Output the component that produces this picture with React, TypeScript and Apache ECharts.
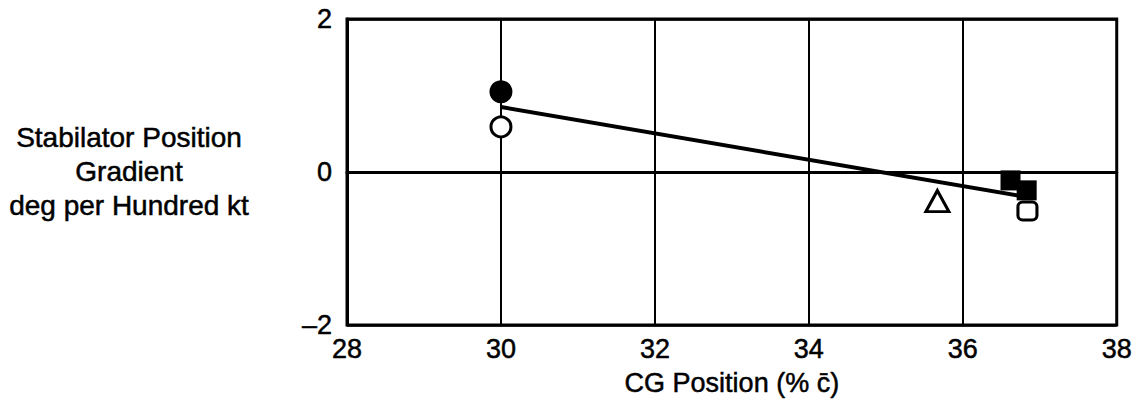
import React, { useEffect, useRef } from "react";
import * as echarts from "echarts";

const xTicks = [28, 30, 32, 34, 36, 38];
const yTicks = [-2, 0, 2];
const yTitleLines = ["Stabilator Position", "Gradient", "deg per Hundred kt"];
const filledCircle = [[30.0, 1.05]];
const openCircle = [[30.0, 0.59]];
const openTriangle = [[35.67, -0.38]];
const filledSquares = [
  [36.62, -0.11],
  [36.83, -0.24],
];
const openSquare = [[36.84, -0.51]];
const fitLine = [
  [30.0, 0.85],
  [36.85, -0.33],
];

const FONT = "Liberation Sans";
const HEAVY = { textBorderColor: "#000", textBorderWidth: 0.5 };

export default function App() {
  const ref = useRef<HTMLDivElement>(null);
  useEffect(() => {
    if (!ref.current) return;
    const chart = echarts.init(ref.current, undefined, { renderer: "svg" });
    chart.setOption({
      animation: false,
      backgroundColor: "#ffffff",
      grid: {
        left: 347,
        right: 18,
        top: 19,
        bottom: 84,
        show: true,
        borderColor: "#000",
        borderWidth: 3,
      },
      xAxis: {
        type: "value",
        min: xTicks[0],
        max: xTicks[xTicks.length - 1],
        interval: 2,
        name: "CG Position (% c\u0304)",
        nameLocation: "middle",
        nameGap: 44,
        nameTextStyle: { fontFamily: FONT, fontSize: 27, color: "#000", ...HEAVY },
        axisLine: { show: true, lineStyle: { color: "#000", width: 3 } },
        axisTick: { show: false },
        axisLabel: {
          margin: 10,
          fontFamily: FONT,
          fontSize: 27,
          color: "#000",
          ...HEAVY,
          formatter: (v: number) => (xTicks.includes(v) ? String(v) : ""),
        },
        splitLine: { show: true, lineStyle: { color: "#000", width: 2 } },
      },
      yAxis: {
        type: "value",
        min: yTicks[0],
        max: yTicks[yTicks.length - 1],
        interval: 2,
        axisLine: { show: true, lineStyle: { color: "#000", width: 3 } },
        axisTick: { show: false },
        axisLabel: {
          margin: 15,
          fontFamily: FONT,
          fontSize: 27,
          color: "#000",
          ...HEAVY,
          formatter: (v: number) => (v < 0 ? "\u2013" + Math.abs(v) : String(v)),
        },
        splitLine: { show: true, lineStyle: { color: "#000", width: 2.5 } },
      },
      graphic: yTitleLines.map((t, i) => ({
        type: "text",
        x: 129,
        y: 137 + i * 34,
        style: {
          text: t,
          fontFamily: FONT,
          fontSize: 28,
          fill: "#000",
          stroke: "#000",
          lineWidth: 0.5,
          align: "center",
          verticalAlign: "middle",
        },
      })),
      series: [
        {
          type: "line",
          data: fitLine,
          symbol: "none",
          lineStyle: { color: "#000", width: 4 },
          z: 2,
        },
        {
          type: "scatter",
          data: filledCircle,
          symbol: "circle",
          symbolSize: 23,
          itemStyle: { color: "#000", opacity: 1 },
          z: 3,
        },
        {
          type: "scatter",
          data: openCircle,
          symbol: "circle",
          symbolSize: 20,
          itemStyle: { color: "#fff", borderColor: "#000", borderWidth: 3, opacity: 1 },
          z: 3,
        },
        {
          type: "scatter",
          data: openTriangle,
          symbol: "triangle",
          symbolSize: [23, 21],
          itemStyle: { color: "#fff", borderColor: "#000", borderWidth: 3, opacity: 1 },
          z: 3,
        },
        {
          type: "scatter",
          data: filledSquares,
          symbol: "rect",
          symbolSize: 20,
          itemStyle: { color: "#000", opacity: 1 },
          z: 4,
        },
        {
          type: "scatter",
          data: openSquare,
          symbol: "roundRect",
          symbolSize: [19, 18],
          itemStyle: { color: "#fff", borderColor: "#000", borderWidth: 3, opacity: 1 },
          z: 5,
        },
      ],
    });
    return () => chart.dispose();
  }, []);
  return (
    <div
      ref={ref}
      style={{ position: "absolute", left: 0, top: 0, width: 1135, height: 409 }}
    />
  );
}
